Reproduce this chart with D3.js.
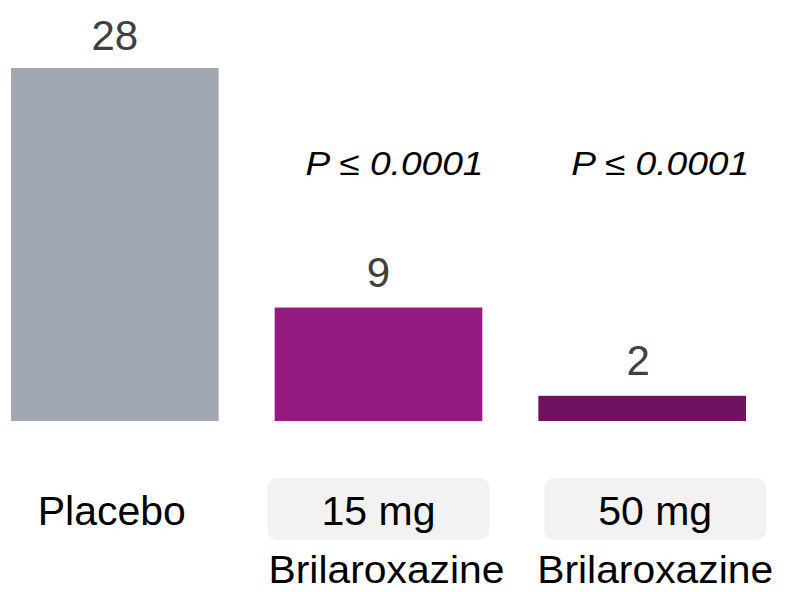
<!DOCTYPE html>
<html><head><meta charset="utf-8">
<script src="https://cdn.jsdelivr.net/npm/d3@7"></script>
<style>
html,body{margin:0;padding:0;background:#fff;}
svg{display:block;font-family:"Liberation Sans",Arial,sans-serif;}
</style></head>
<body>
<svg id="chart" width="787" height="592"></svg>
<script>
const categories = ["Placebo", "15 mg", "50 mg"];
const values = [28, 9, 2];
const groupLabels = ["", "Brilaroxazine", "Brilaroxazine"];
const pLabels = ["", "P \u2264 0.0001", "P \u2264 0.0001"];
const colors = ["#a1a8b3", "#951b81", "#6f1260"];

const svg = d3.select("#chart");
const x = d3.scaleBand().domain(categories).range([11, 746]).paddingInner(0.2125).paddingOuter(0);
const y = d3.scaleLinear().domain([0, 28]).range([421, 68]);

// label center offsets (layout)
const labelShift = [0, 0, 13];
const pShift = [0, 16, 18];
const cx = (d, i) => x(d) + x.bandwidth() / 2;

svg.selectAll("rect.bar").data(categories).join("rect")
  .attr("class", "bar")
  .attr("x", d => x(d))
  .attr("width", x.bandwidth())
  .attr("y", (d, i) => y(values[i]))
  .attr("height", (d, i) => y(0) - y(values[i]))
  .attr("fill", (d, i) => colors[i]);

svg.selectAll("text.val").data(categories).join("text")
  .attr("class", "val")
  .attr("x", (d, i) => cx(d, i) + (i === 2 ? -4 : 0))
  .attr("y", (d, i) => y(values[i]) - (i === 0 ? 18 : 21))
  .attr("text-anchor", "middle")
  .attr("font-size", 42)
  .attr("fill", "#404040")
  .text((d, i) => values[i]);

svg.selectAll("text.p").data(categories.filter((d, i) => pLabels[i])).join("text")
  .attr("class", "p")
  .attr("x", d => { const i = categories.indexOf(d); return cx(d, i) + pShift[i]; })
  .attr("y", 175)
  .attr("text-anchor", "middle")
  .attr("font-size", 33)
  .attr("font-style", "italic")
  .attr("textLength", 178)
  .attr("lengthAdjust", "spacingAndGlyphs")
  .attr("fill", "#000")
  .text(d => pLabels[categories.indexOf(d)]);

// boxes behind dose labels
svg.selectAll("rect.box").data(categories.filter((d, i) => groupLabels[i])).join("rect")
  .attr("class", "box")
  .attr("x", d => { const i = categories.indexOf(d); return cx(d, i) + labelShift[i] - 111; })
  .attr("y", 478)
  .attr("width", 222)
  .attr("height", 62)
  .attr("rx", 10)
  .attr("fill", "#f2f2f2");

svg.selectAll("text.cat").data(categories).join("text")
  .attr("class", "cat")
  .attr("x", (d, i) => cx(d, i) + labelShift[i] - (i === 0 ? 3 : 0))
  .attr("y", 525)
  .attr("text-anchor", "middle")
  .attr("font-size", 41)
  .attr("fill", "#000")
  .text(d => d);

svg.selectAll("text.grp").data(categories.filter((d, i) => groupLabels[i])).join("text")
  .attr("class", "grp")
  .attr("x", d => { const i = categories.indexOf(d); return cx(d, i) + labelShift[i] + (i === 1 ? 8 : 0); })
  .attr("y", 583)
  .attr("text-anchor", "middle")
  .attr("font-size", 38)
  .attr("textLength", 236)
  .attr("lengthAdjust", "spacingAndGlyphs")
  .attr("fill", "#000")
  .text(d => groupLabels[categories.indexOf(d)]);
</script>
</body></html>
